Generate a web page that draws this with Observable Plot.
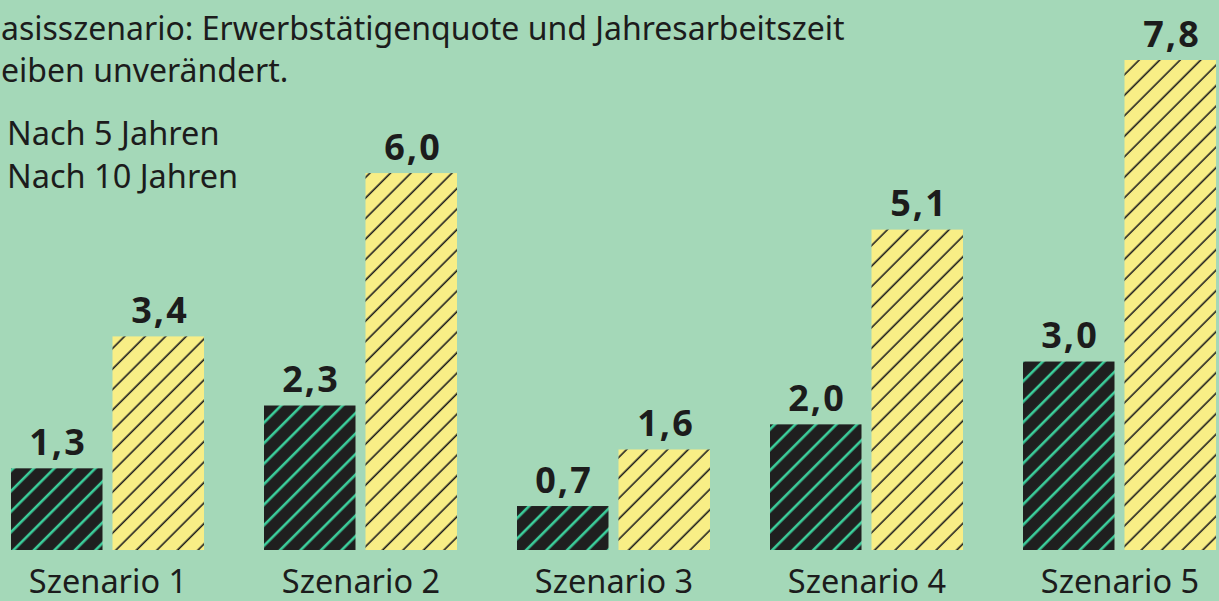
<!DOCTYPE html>
<html>
<head>
<meta charset="utf-8">
<script src="https://cdn.jsdelivr.net/npm/d3@7"></script>
<script src="https://cdn.jsdelivr.net/npm/@observablehq/plot@0.6"></script>
<style>
  html, body { margin: 0; padding: 0; background: #a4d8b8; overflow: hidden; }
  #wrap { position: relative; width: 1219px; height: 601px; font-family: "Noto Sans", sans-serif; color: #1c1c1c; }
  #title { position: absolute; left: 1px; top: 7px; font-size: 32px; line-height: 42px; white-space: nowrap; }
  #legend { position: absolute; left: 7px; top: 111px; font-size: 32.5px; line-height: 43px; white-space: nowrap; }
  #chart { position: absolute; left: 0; top: 0; }
  .vlabel text { letter-spacing: 2px; }
</style>
</head>
<body>
<div id="wrap">
  <div id="chart"></div>
  <div id="title">asisszenario: Erwerbstätigenquote und Jahresarbeitszeit<br>eiben unverändert.</div>
  <div id="legend">Nach 5 Jahren<br>Nach 10 Jahren</div>
</div>
<script>
const scenarios = ["Szenario 1", "Szenario 2", "Szenario 3", "Szenario 4", "Szenario 5"];
const after5 = [1.3, 2.3, 0.7, 2.0, 3.0];
const after10 = [3.4, 6.0, 1.6, 5.1, 7.8];
const seriesNames = ["Nach 5 Jahren", "Nach 10 Jahren"];

const fmt = v => v.toFixed(1).replace(".", ",");
const d5 = scenarios.map((s, i) => ({scenario: s, value: after5[i]}));
const d10 = scenarios.map((s, i) => ({scenario: s, value: after10[i]}));

const W = 1219, H = 601;
const plot = Plot.plot({
  width: W,
  height: H,
  marginLeft: 10,
  marginRight: 1,
  marginTop: 60,
  marginBottom: 51,
  style: {background: "transparent", fontFamily: "Noto Sans, sans-serif", color: "#1c1c1c", overflow: "visible"},
  x: {domain: scenarios, paddingInner: 0.2363, paddingOuter: 0, label: null},
  y: {domain: [0, 7.8], axis: null},
  marks: [
    Plot.barY(d5, {x: "scenario", y: "value", fill: "url(#hatchDark)", insetRight: 101.5}),
    Plot.barY(d10, {x: "scenario", y: "value", fill: "url(#hatchYellow)", insetLeft: 101.5}),
    Plot.text(d5, {x: "scenario", y: "value", text: d => fmt(d.value), dx: -50, dy: -14, lineAnchor: "bottom", fontSize: 36, fontWeight: "bold", fill: "#1c1c1c", className: "vlabel"}),
    Plot.text(d10, {x: "scenario", y: "value", text: d => fmt(d.value), dx: 52, dy: -14, lineAnchor: "bottom", fontSize: 36, fontWeight: "bold", fill: "#1c1c1c", className: "vlabel"}),
    Plot.axisX({tickSize: 0, tickPadding: 19, fontSize: 32.5, label: null, fill: "#1c1c1c"})
  ]
});

const ns = "http://www.w3.org/2000/svg";
const defs = document.createElementNS(ns, "defs");
function hatch(id, bg, stroke, sw) {
  const p = document.createElementNS(ns, "pattern");
  p.setAttribute("id", id);
  p.setAttribute("patternUnits", "userSpaceOnUse");
  p.setAttribute("width", "14.5");
  p.setAttribute("height", "14.5");
  p.setAttribute("patternTransform", "rotate(45)");
  const r = document.createElementNS(ns, "rect");
  r.setAttribute("width", "14.5"); r.setAttribute("height", "14.5"); r.setAttribute("fill", bg);
  const l = document.createElementNS(ns, "line");
  l.setAttribute("x1", "7"); l.setAttribute("x2", "7"); l.setAttribute("y1", "-1"); l.setAttribute("y2", "16");
  l.setAttribute("stroke", stroke); l.setAttribute("stroke-width", sw);
  p.appendChild(r); p.appendChild(l);
  defs.appendChild(p);
}
hatch("hatchDark", "#1f1f1f", "#3ccf9c", "2.6");
hatch("hatchYellow", "#f8ee86", "#1c1c1c", "1.6");
plot.insertBefore(defs, plot.firstChild);
document.getElementById("chart").appendChild(plot);
</script>
</body>
</html>
